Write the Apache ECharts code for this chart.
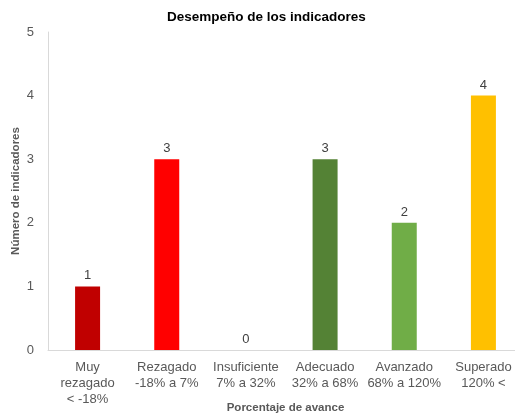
<!DOCTYPE html>
<html>
<head>
<meta charset="utf-8">
<script src="https://cdn.jsdelivr.net/npm/echarts@6/dist/echarts.min.js"></script>
<style>
  html, body { margin: 0; padding: 0; background: #fff; }
  #chart { width: 515px; height: 416px; }
</style>
</head>
<body>
<div id="chart"></div>
<script>
// categorías (rangos de avance)
const categories = [
  'Muy\nrezagado\n< -18%',
  'Rezagado\n-18% a 7%',
  'Insuficiente\n7% a 32%',
  'Adecuado\n32% a 68%',
  'Avanzado\n68% a 120%',
  'Superado\n120% <'
];
const counts = [1, 3, 0, 3, 2, 4];
const barColors = ['#C00000', '#FF0000', '#A5A5A5', '#548235', '#70AD47', '#FFC000'];
const yTicks = [0, 1, 2, 3, 4, 5];

const font = '"Liberation Sans", Arial, sans-serif';

const chart = echarts.init(document.getElementById('chart'));
chart.setOption({
  animation: false,
  textStyle: { fontFamily: font },
  title: {
    text: 'Desempeño de los indicadores',
    left: 162,
    top: 5,
    textStyle: { fontSize: 13.5, fontWeight: 'bold', color: '#000', fontFamily: font }
  },
  grid: { left: 48, top: 32, width: 475, height: 318, containLabel: false, outerBoundsMode: 'none' },
  xAxis: {
    type: 'category',
    data: categories,
    name: 'Porcentaje de avance',
    nameLocation: 'middle',
    nameGap: 52,
    nameMoveOverlap: false,
    nameTextStyle: { fontSize: 11.5, fontWeight: 'bold', color: '#595959' },
    axisLine: { lineStyle: { color: '#D9D9D9' } },
    axisTick: { show: false },
    axisLabel: { fontSize: 13, color: '#595959', lineHeight: 16, margin: 9, interval: 0 }
  },
  yAxis: {
    type: 'value',
    min: yTicks[0],
    max: yTicks[yTicks.length - 1],
    interval: 1,
    name: 'Número de indicadores',
    nameLocation: 'middle',
    nameGap: 26,
    nameMoveOverlap: false,
    nameTextStyle: { fontSize: 11.5, fontWeight: 'bold', color: '#595959' },
    axisLine: { show: true, lineStyle: { color: '#D9D9D9' } },
    axisTick: { show: false },
    splitLine: { show: false },
    axisLabel: { fontSize: 13, color: '#595959', margin: 14 }
  },
  series: [{
    type: 'bar',
    barWidth: 25,
    data: counts.map((v, i) => ({ value: v, itemStyle: { color: barColors[i] } })),
    label: { show: true, position: 'top', distance: 4, fontSize: 13, color: '#404040' }
  }]
});
</script>
</body>
</html>
